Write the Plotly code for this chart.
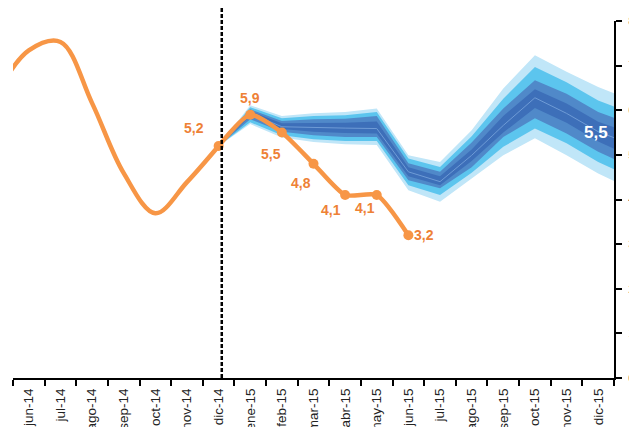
import plotly.graph_objects as go

# month categories (first and last are only there so the curves run into the frame edges)
months = ["may-14", "jun-14", "jul-14", "ago-14", "sep-14", "oct-14", "nov-14", "dic-14",
          "ene-15", "feb-15", "mar-15", "abr-15", "may-15", "jun-15", "jul-15", "ago-15",
          "sep-15", "oct-15", "nov-15", "dic-15", "ene-16"]

# observed inflation, history
hist_months = months[:8]
hist_vals = [6.4, 7.34, 7.53, 6.16, 4.59, 3.69, 4.39, 5.2]

# observed inflation, 2015
obs_months = months[7:14]
obs_vals = [5.2, 5.9, 5.5, 4.8, 4.1, 4.1, 3.2]
obs_text = ["5,2", "5,9", "5,5", "4,8", "4,1", "4,1", "3,2"]

# fan chart bands, dic-14 .. ene-16
fan_months = months[7:]
fan_center = [5.2, 5.93, 5.63, 5.61, 5.60, 5.59, 4.62, 4.40, 4.99, 5.66, 6.28, 5.93, 5.52, 5.25]
fan_light_hi = [5.2, 6.11, 5.87, 5.93, 5.96, 6.04, 4.99, 4.84, 5.55, 6.49, 7.23, 6.86, 6.52, 6.24]
fan_light_lo = [5.2, 5.69, 5.39, 5.29, 5.24, 5.22, 4.21, 3.95, 4.47, 4.99, 5.37, 4.99, 4.58, 4.25]
fan_mid_hi = [5.2, 6.07, 5.82, 5.87, 5.89, 5.96, 4.92, 4.73, 5.42, 6.26, 6.97, 6.63, 6.22, 5.95]
fan_mid_lo = [5.2, 5.73, 5.44, 5.35, 5.31, 5.31, 4.32, 4.10, 4.60, 5.18, 5.59, 5.26, 4.84, 4.52]
fan_blue_hi = [5.2, 6.02, 5.76, 5.80, 5.81, 5.87, 4.81, 4.62, 5.28, 6.04, 6.67, 6.37, 5.96, 5.70]
fan_blue_lo = [5.2, 5.80, 5.52, 5.44, 5.40, 5.40, 4.43, 4.25, 4.72, 5.40, 5.82, 5.48, 5.07, 4.75]
fan_dark_hi = [5.2, 5.98, 5.71, 5.72, 5.72, 5.75, 4.72, 4.52, 5.12, 5.87, 6.47, 6.15, 5.74, 5.50]
fan_dark_lo = [5.2, 5.87, 5.58, 5.52, 5.49, 5.48, 4.52, 4.32, 4.86, 5.50, 6.05, 5.72, 5.30, 4.98]
fan_label = "5,5"
fan_label_month = "dic-15"
fan_label_val = 5.5

cutoff_x = 7.1  # dashed separator, just right of dic-14

ORANGE = "#F79646"
ORANGE_TXT = "#EE8136"

fig = go.Figure()

bands = [
    (fan_light_hi, fan_light_lo, "#C0E6F8"),
    (fan_mid_hi, fan_mid_lo, "#5CC5EE"),
    (fan_blue_hi, fan_blue_lo, "#5089C9"),
    (fan_dark_hi, fan_dark_lo, "#3D6FB9"),
]
for hi, lo, col in bands:
    fig.add_trace(go.Scatter(
        x=fan_months + fan_months[::-1],
        y=hi + lo[::-1],
        fill="toself", fillcolor=col,
        line=dict(width=0), mode="lines",
        hoverinfo="skip", showlegend=False,
    ))
fig.add_trace(go.Scatter(
    x=fan_months, y=fan_center, mode="lines",
    line=dict(color="#6E9BD6", width=1), showlegend=False,
))

fig.add_trace(go.Scatter(
    x=hist_months, y=hist_vals, mode="lines",
    line=dict(color=ORANGE, width=4.5, shape="spline", smoothing=1.0),
    showlegend=False,
))
fig.add_trace(go.Scatter(
    x=obs_months, y=obs_vals, mode="lines+markers",
    line=dict(color=ORANGE, width=4.5, shape="spline", smoothing=0.6),
    marker=dict(color=ORANGE, size=10),
    showlegend=False,
))

# label offsets (px) for the observed points
shifts = [(-25, 18), (0, 17), (-11, -21), (-13, -19), (-14, -15), (-12, -13), (16, 0)]
for m, v, t, (dx, dy) in zip(obs_months, obs_vals, obs_text, shifts):
    fig.add_annotation(x=m, y=v, text=t, showarrow=False, xshift=dx, yshift=dy,
                       font=dict(family="Arial", size=14, color=ORANGE_TXT, weight="bold"))

fig.add_annotation(x=fan_label_month, y=fan_label_val, text=fan_label, showarrow=False,
                   xshift=-2, font=dict(family="Arial", size=17, color="white", weight="bold"))

fig.add_shape(type="line", x0=cutoff_x, x1=cutoff_x, xref="x", yref="paper", y0=0, y1=1.038,
              line=dict(color="black", width=2.5, dash="4px,2px"))

fig.update_xaxes(
    type="category", categoryorder="array", categoryarray=months,
    range=[0.5, 19.5], tickson="boundaries",
    showline=True, linecolor="black", linewidth=2,
    ticks="outside", ticklen=6, tickwidth=1.5, tickcolor="black",
    tickangle=-90, tickfont=dict(family="Arial", size=13.5, color="#222"),
    ticklabelstandoff=3,
    showgrid=False, zeroline=False, automargin=False,
)
fig.update_yaxes(
    side="right", range=[0, 8], dtick=1,
    showline=True, linecolor="black", linewidth=2,
    ticks="outside", ticklen=6, tickwidth=1.5, tickcolor="black",
    tickfont=dict(family="Arial", size=11, color="#444"), ticklabelstandoff=4,
    showgrid=False, zeroline=False, automargin=False,
)
fig.update_layout(
    width=629, height=427,
    margin=dict(l=13, r=15, t=21, b=49),
    paper_bgcolor="white", plot_bgcolor="white",
    showlegend=False,
)

# drop the page's default body margin so the figure sits at the window's corner
fig.write_html("out.html", config={"displayModeBar": False},
               post_script="document.body.style.margin='0';")
